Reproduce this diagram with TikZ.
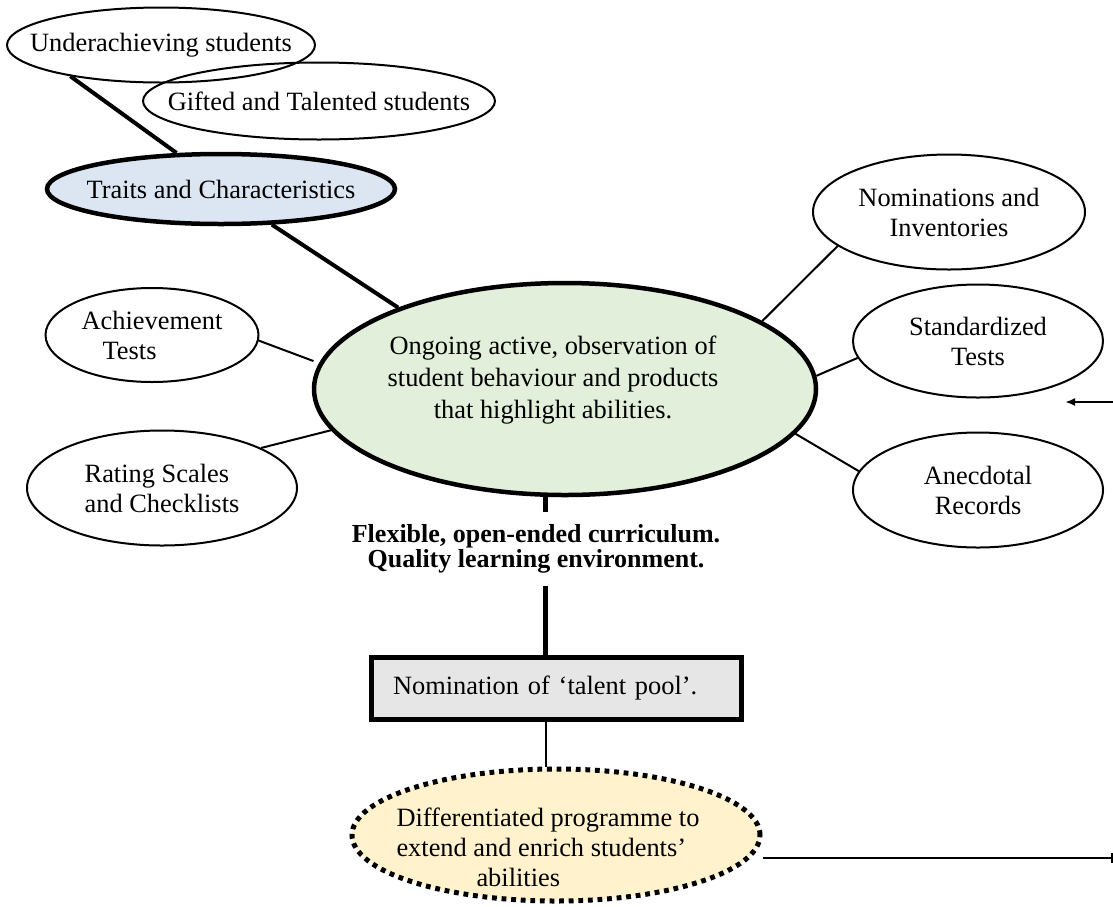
\documentclass[tikz,border=0pt]{standalone}
\usepackage{fontspec}
\setmainfont{Liberation Serif}
\usetikzlibrary{shapes.geometric,arrows.meta}
\definecolor{traitsblue}{HTML}{DCE6F2}
\definecolor{obsgreen}{HTML}{E2EFDA}
\definecolor{poolgray}{HTML}{E6E6E6}
\definecolor{progyellow}{HTML}{FFF2CC}
\begin{document}
\begin{tikzpicture}[x=0.5pt,y=-0.5pt,
  every node/.style={font=\fontsize{13.2pt}{15pt}\selectfont,inner sep=0pt},
  oval/.style={ellipse,draw,line width=1pt},
  wide oval/.style={oval,inner xsep=-15pt},
  bold oval/.style={ellipse,draw,line width=2.25pt},
  thin link/.style={line width=1pt},
  thick link/.style={line width=2pt},
  spine line/.style={line width=2.5pt}]
  \useasboundingbox (0,0) rectangle (1113,906);
  \node[wide oval,minimum width=154pt,minimum height=37.5pt] (under) at (161,45) {Underachieving students};
  \node[wide oval,minimum width=176pt,minimum height=38.5pt] (gifted) at (319,101) {Gifted and Talented students};
  \node[bold oval,inner xsep=-15pt,fill=traitsblue,minimum width=174pt,minimum height=35pt] (traits) at (221,189) {Traits and Characteristics};
  \node[bold oval,fill=obsgreen,minimum width=251pt,minimum height=106pt] (obs) at (565,389) {};
  \node[align=center,font=\fontsize{13.2pt}{16pt}\selectfont] (obstext) at (553,380) {Ongoing active, observation of\\student behaviour and products\\that highlight abilities.};
  \node[oval,align=center,minimum width=136pt,minimum height=57.5pt] (nom) at (949,212) {Nominations and\\Inventories};
  \node[oval,align=center,minimum width=125pt,minimum height=56.5pt] (std) at (978,341) {Standardized\\Tests};
  \node[oval,align=center,minimum width=125pt,minimum height=57.5pt] (anec) at (978,490) {Anecdotal\\Records};
  \node[oval,align=left,minimum width=106.5pt,minimum height=47pt] (ach) at (152,335) {Achievement\\\hspace*{10.5pt}Tests};
  \node[oval,align=left,minimum width=135pt,minimum height=57.5pt] (rate) at (162,488) {Rating Scales\\and Checklists};
  \node[align=center,inner ysep=6pt,font=\fontsize{13pt}{12.5pt}\selectfont\bfseries] (flex) at (536,549) {Flexible, open-ended curriculum.\\Quality learning environment.};
  \node[draw,line width=2.5pt,fill=poolgray,minimum width=185pt,minimum height=31pt,text width=163pt,inner xsep=11pt,align=left] (pool) at (556,688) {Nomination of ‘talent pool’.};
  \node[ellipse,line width=2.5pt,dash pattern=on 2.4pt off 2.4pt,draw,fill=progyellow,minimum width=204pt,minimum height=66pt] (diff) at (556,835) {};
  \node[align=left] (difftext) at (548,847) {Differentiated programme to\\extend and enrich students’\\\hspace*{40pt}abilities};
  \draw[thick link] (under.199) -- (traits.141);
  \draw[thick link] (traits.-35) -- (obs.154);
  \draw[thin link] (obs.19) -- (nom.197);
  \draw[thin link] (obs.3) -- (std.188);
  \draw[thin link] (obs.-11) -- (anec.171);
  \draw[thin link,shorten >=3pt] (ach.-3) -- (obs.174);
  \draw[thin link] (rate.22) -- (obs.190);
  \coordinate (spine) at (obs.-100);
  \draw[spine line] (spine) -- (spine |- flex.north);
  \draw[spine line] (flex.south -| spine) -- (pool.north -| spine);
  \draw[line width=1.2pt] (pool.south -| spine) -- (diff.north -| spine);
  \coordinate (rtop) at (1113,402);
  \coordinate (rtip) at (1065,402);
  \draw[thin link,-{Latex[length=5pt,width=4pt]}] (rtop) -- (rtip);
  \coordinate (rbot) at (1113,858);
  \draw[thin link,-{Bar[width=5pt]}] (diff.east |- rbot) -- (rbot);
\end{tikzpicture}
\end{document}
